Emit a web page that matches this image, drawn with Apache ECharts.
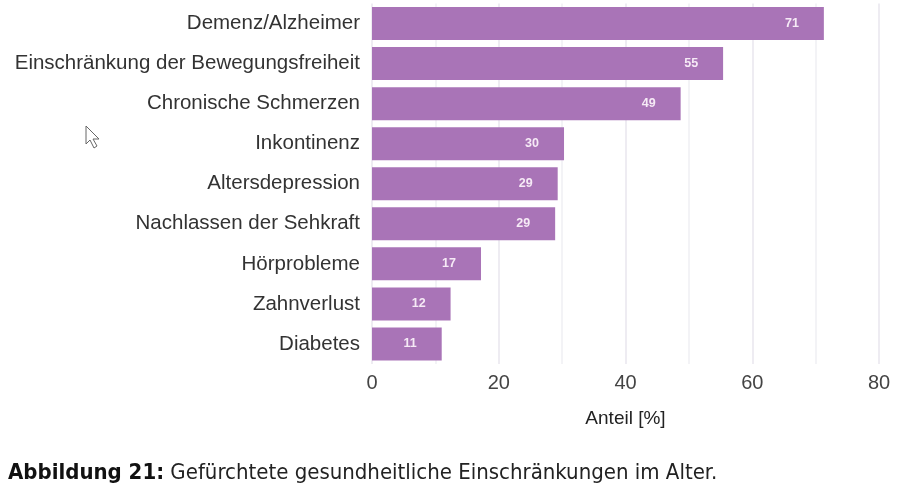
<!DOCTYPE html>
<html>
<head>
<meta charset="utf-8">
<script src="https://cdn.jsdelivr.net/npm/echarts@6/dist/echarts.min.js"></script>
<style>
html,body{margin:0;padding:0;background:#fff;}
#c{width:900px;height:493px;}
</style>
</head>
<body>
<div id="c"></div>
<script>
const categories = ["Demenz/Alzheimer","Einschränkung der Bewegungsfreiheit","Chronische Schmerzen","Inkontinenz","Altersdepression","Nachlassen der Sehkraft","Hörprobleme","Zahnverlust","Diabetes"];
const values = [71.3, 55.4, 48.7, 30.3, 29.3, 28.9, 17.2, 12.4, 11.0];
const xTicks = [0, 20, 40, 60, 80];
const xAxisName = "Anteil [%]";
const captionBold = "Abbildung 21:";
const captionText = " Gefürchtete gesundheitliche Einschränkungen im Alter.";

const chart = echarts.init(document.getElementById('c'), null, {renderer:'canvas'});
chart.setOption({
  animation:false,
  backgroundColor:'#ffffff',
  grid:{left:372, right:21, top:3.5, bottom:129, containLabel:false},
  xAxis:{
    type:'value', min:xTicks[0], max:xTicks[xTicks.length-1], interval:20,
    name:xAxisName, nameLocation:'middle', nameGap:45,
    nameTextStyle:{fontFamily:'Liberation Sans', fontSize:19, color:'#222'},
    axisLine:{show:false}, axisTick:{show:false},
    axisLabel:{fontFamily:'Liberation Sans', fontSize:20, color:'#444', margin:9},
    splitLine:{show:true, lineStyle:{color:'#e8e6ee', width:1.5}},
    minorTick:{show:false, splitNumber:2},
    minorSplitLine:{show:true, lineStyle:{color:'#f0f0f4', width:1.5}}
  },
  yAxis:{
    type:'category', data:categories, inverse:true,
    axisLine:{show:false}, axisTick:{show:false},
    axisLabel:{fontFamily:'Liberation Sans', fontSize:20.5, color:'#333', margin:12},
    splitLine:{show:false}
  },
  series:[{
    type:'bar', data:values, barWidth:33,
    itemStyle:{color:'#a974b7'},
    label:{show:true, position:'insideRight', distance:25,
      formatter:p=>Math.round(p.value),
      color:'#f6eaf6', fontFamily:'Liberation Sans', fontSize:12.5, fontWeight:'bold'}
  }],
  graphic:[
    {type:'text', left:8, top:462, style:{
      rich:{b:{fontFamily:'DejaVu Sans Condensed', fontWeight:'bold', fontSize:22, fill:'#111'},
            r:{fontFamily:'DejaVu Sans Condensed', fontSize:22, fill:'#222'}},
      text:'{b|'+captionBold+'}{r|'+captionText+'}'
    }},
    {type:'polyline', shape:{points:[[86,126],[86,144],[90,140],[94,148],[97,146],[93,139],[99,139],[86,126]]},
      style:{stroke:'#666', fill:'#fff', lineWidth:1}}
  ]
});
</script>
</body>
</html>
